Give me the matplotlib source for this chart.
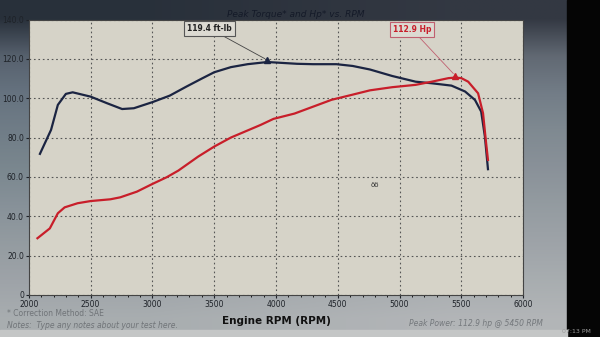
import matplotlib
matplotlib.use('Agg')
import matplotlib.pyplot as plt
import numpy as np

# dyno run
torque_rpm = [2090, 2180, 2235, 2300, 2355, 2500, 2635, 2755, 2850, 3000, 3140, 3275,
              3400, 3500, 3635, 3770, 3930, 4010, 4170, 4300, 4490, 4620, 4760,
              4940, 5130, 5260, 5420, 5530, 5610, 5660, 5690, 5715]
torque_val = [71.7, 83.9, 96.6, 102.2, 103.0, 100.8, 97.4, 94.5, 94.9, 98.0, 101.3, 105.9,
              110.0, 113.2, 115.8, 117.3, 118.4, 118.1, 117.5, 117.3, 117.3, 116.4, 114.6,
              111.3, 108.4, 107.6, 106.4, 103.4, 99.1, 93.2, 80.5, 63.9]

power_rpm = [2070, 2170, 2235, 2290, 2395, 2500, 2660, 2740, 2875, 3000, 3115, 3210,
             3370, 3500, 3635, 3770, 3875, 3980, 4150, 4300, 4450, 4600, 4760,
             4940, 5130, 5260, 5395, 5450, 5500, 5555, 5635, 5675, 5700, 5715]
power_val = [28.8, 33.8, 41.5, 44.5, 46.6, 47.7, 48.6, 49.6, 52.5, 56.4, 59.8, 63.2,
             70.3, 75.4, 80.0, 83.6, 86.4, 89.5, 92.2, 95.7, 99.2, 101.5, 104.0,
             105.6, 106.8, 108.4, 110.2, 110.5, 110.2, 108.4, 102.5, 92.4, 77.1, 68.6]

peak_torque = (3930, 118.4, '119.4 ft-lb')
peak_power = (5450, 110.5, '112.9 Hp')

x_ticks = np.arange(2000, 6001, 500)
y_ticks = np.arange(0, 141, 20)
y_labels = ['0'] + ['%.1f' % v for v in y_ticks[1:]]

navy = '#1b2442'
red = '#c81e2a'

fig = plt.figure(figsize=(6.0, 3.37), dpi=100)

# photo-like backdrop, dark band only at the very top
bg = fig.add_axes([0, 0, 1, 1], zorder=0)
grad = np.array([[[0.16, 0.19, 0.23], [0.20, 0.22, 0.26]],
                 [[0.34, 0.38, 0.43], [0.38, 0.41, 0.45]],
                 [[0.40, 0.45, 0.50], [0.45, 0.49, 0.53]],
                 [[0.44, 0.49, 0.53], [0.50, 0.54, 0.57]],
                 [[0.48, 0.53, 0.56], [0.54, 0.57, 0.60]],
                 [[0.53, 0.57, 0.60], [0.58, 0.61, 0.63]],
                 [[0.58, 0.61, 0.63], [0.62, 0.64, 0.66]],
                 [[0.62, 0.64, 0.66], [0.66, 0.68, 0.69]],
                 [[0.66, 0.68, 0.69], [0.70, 0.71, 0.72]]])
bg.imshow(grad, extent=[0, 1, 0, 1], aspect='auto', interpolation='bilinear')
bg.add_patch(plt.Rectangle((0.945, 0), 0.06, 1, color='#050505'))
bg.add_patch(plt.Rectangle((0, 0), 0.945, 0.02, color='#c4c6c6'))
bg.set_xlim(0, 1)
bg.set_ylim(0, 1)
bg.axis('off')

ax = fig.add_axes([0.048, 0.125, 0.824, 0.817], zorder=1)
ax.set_facecolor('#d6d3c8')

ax.plot(torque_rpm, torque_val, color=navy, lw=1.6)
ax.plot(power_rpm, power_val, color=red, lw=1.6)

ax.plot(peak_torque[0], peak_torque[1] + 1, marker='^', color=navy, ms=5)
ax.plot(peak_power[0], peak_power[1] + 1, marker='^', color=red, ms=5)

ax.annotate(peak_torque[2], xy=(peak_torque[0], peak_torque[1] + 1), xytext=(3460, 135.5),
            fontsize=5.5, fontweight='bold', color='#222', ha='center', va='center',
            bbox=dict(boxstyle='square,pad=0.4', fc='#dcdad2', ec='#555', lw=0.8),
            arrowprops=dict(arrowstyle='-', color='#444', lw=0.6, shrinkA=0, shrinkB=2))
ax.annotate(peak_power[2], xy=(peak_power[0], peak_power[1] + 1), xytext=(5100, 135),
            fontsize=5.5, fontweight='bold', color=red, ha='center', va='center',
            bbox=dict(boxstyle='square,pad=0.4', fc='#dcdad2', ec='#c06070', lw=0.8),
            arrowprops=dict(arrowstyle='-', color='#c06070', lw=0.6, shrinkA=0, shrinkB=2))

ax.text(4800, 56, 'öö', fontsize=5, color='#333', ha='center', va='center')

ax.set_xlim(2000, 6000)
ax.set_ylim(0, 140)
ax.set_xticks(x_ticks)
ax.set_xticks(np.arange(2000, 6001, 100), minor=True)
ax.set_yticks(y_ticks)
ax.set_yticklabels(y_labels)
ax.tick_params(labelsize=5.5, colors='#1e2228', length=2, pad=1.5)
ax.tick_params(which='minor', length=1.5)
ax.grid(True, linestyle=(0, (1.5, 2.5)), color='#555', lw=0.8)
for s in ax.spines.values():
    s.set_color('#444')
    s.set_linewidth(0.8)

ax.set_xlabel('Engine RPM (RPM)', fontsize=7.5, fontweight='bold', color='#111', labelpad=5)

fig.text(0.493, 0.957, 'Peak Torque* and Hp* vs. RPM', fontsize=6.5, style='italic',
         color='#141a28', ha='center', va='center')
fig.text(0.012, 0.07, '* Correction Method: SAE', fontsize=5.5, color='#707478', va='center')
fig.text(0.012, 0.035, 'Notes:  Type any notes about your test here.', fontsize=5.5,
         style='italic', color='#707478', va='center')
fig.text(0.905, 0.04, 'Peak Power: 112.9 hp @ 5450 RPM', fontsize=5.5, style='italic',
         color='#74787c', ha='right', va='center')
fig.text(0.985, 0.008, '07:13 PM', fontsize=4.5, color='#999', ha='right', va='bottom')

fig.savefig('out.png', dpi=100)
